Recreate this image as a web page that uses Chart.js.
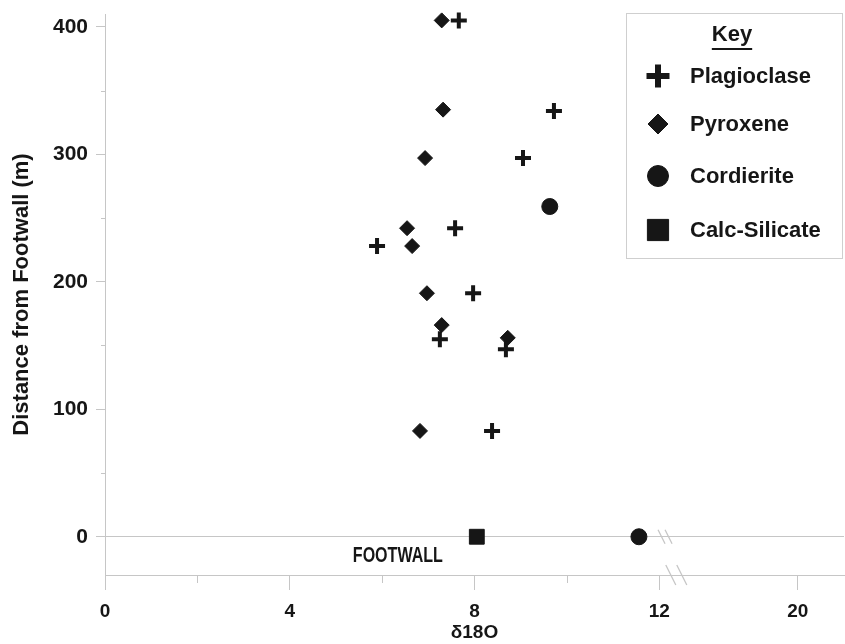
<!DOCTYPE html>
<html>
<head>
<meta charset="utf-8">
<script src="https://cdn.jsdelivr.net/npm/chart.js@4.4.0/dist/chart.umd.min.js"></script>
<style>
  html, body { margin: 0; padding: 0; background: #fff; }
  #chart { display: block; }
</style>
</head>
<body>
<canvas id="chart" width="845" height="644"></canvas>
<script>
// Values (x = d18O, y = distance from footwall in m)
const plagioclaseX = [7.66, 9.72, 9.05, 7.58, 5.89, 7.97, 7.25, 8.68, 8.38];
const plagioclaseY = [405, 334, 297, 242, 228, 191, 155, 147, 83];

const pyroxeneX = [7.29, 7.32, 6.93, 6.54, 6.65, 6.97, 7.29, 8.72, 6.82];
const pyroxeneY = [405, 335, 297, 242, 228, 191, 166, 156, 83];

const cordieriteX = [9.63, 11.56];
const cordieriteY = [259, 0];

const calcSilicateX = [8.05];
const calcSilicateY = [0];

// axis ticks
const xMajorTicks = [0, 4, 8, 12, 20];
const xMinorTicks = [2, 6, 10];
const yMajorTicks = [0, 100, 200, 300, 400];
const yMinorTicks = [50, 150, 250, 350];

// the x axis is broken: 12.5 .. 17.5 is cut out
const breakStart = 12.5;
const breakGap = 5;
const toAxis = v => v > breakStart ? v - breakGap : v;
const fromAxis = v => v > breakStart ? v + breakGap : v;

// Style settings
const styles = {
    ink: '#161616',
    axisColor: '#c6c6c6',
    fontFamily: '"Liberation Sans", Arial, sans-serif'
};

Chart.defaults.font.family = styles.fontFamily;
Chart.defaults.color = styles.ink;
Chart.defaults.plugins.legend.display = false;
Chart.defaults.plugins.tooltip.enabled = false;

function series(label, xs, ys, extra) {
    return Object.assign({
        label: label,
        data: xs.map((x, i) => ({ x: toAxis(x), y: ys[i] })),
        backgroundColor: styles.ink,
        borderColor: styles.ink,
        clip: false
    }, extra);
}

const datasets = [
    series('Plagioclase', plagioclaseX, plagioclaseY, { pointStyle: 'cross', pointRadius: 8, pointBorderWidth: 4 }),
    series('Pyroxene', pyroxeneX, pyroxeneY, { pointStyle: 'rectRot', pointRadius: 7.5, pointBorderWidth: 1 }),
    series('Cordierite', cordieriteX, cordieriteY, { pointStyle: 'circle', pointRadius: 8, pointBorderWidth: 1 }),
    series('Calc-Silicate', calcSilicateX, calcSilicateY, { pointStyle: 'rect', pointRadius: 10.5, pointBorderWidth: 1 })
];

// minor ticks, axis break marks and the FOOTWALL note
const axisExtras = {
    id: 'axisExtras',
    afterDraw(chart) {
        const ctx = chart.ctx;
        const xs = chart.scales.x, ys = chart.scales.y;
        const area = chart.chartArea;
        ctx.save();
        ctx.strokeStyle = styles.axisColor;
        ctx.lineWidth = 1;
        ctx.beginPath();
        xMinorTicks.forEach(v => {
            const px = Math.round(xs.getPixelForValue(toAxis(v))) + 0.5;
            ctx.moveTo(px, area.bottom);
            ctx.lineTo(px, area.bottom + 8);
        });
        yMinorTicks.forEach(v => {
            const py = Math.round(ys.getPixelForValue(v)) + 0.5;
            ctx.moveTo(area.left - 4, py);
            ctx.lineTo(area.left, py);
        });
        ctx.stroke();

        // break marks "//" on the footwall line and on the axis
        const zeroY = ys.getPixelForValue(0);
        const slash = (cx, cy, dx, dy) => {
            ctx.moveTo(cx - dx, cy - dy);
            ctx.lineTo(cx + dx, cy + dy);
        };
        ctx.lineWidth = 1.3;
        ctx.beginPath();
        const b1 = xs.getPixelForValue(12.05);
        slash(b1, zeroY, 3.5, 7);
        slash(b1 + 7, zeroY, 3.5, 7);
        const b2 = xs.getPixelForValue(12.25);
        slash(b2, area.bottom, 5, 10);
        slash(b2 + 11, area.bottom, 5, 10);
        ctx.stroke();

        // FOOTWALL note
        ctx.fillStyle = styles.ink;
        ctx.font = 'bold 22px ' + styles.fontFamily;
        ctx.textAlign = 'center';
        ctx.textBaseline = 'middle';
        ctx.fillText('FOOTWALL', xs.getPixelForValue(6.34), ys.getPixelForValue(-15), 90);
        ctx.restore();
    }
};

// Key box in the top right corner
const keyBox = {
    id: 'keyBox',
    afterDraw(chart) {
        const ctx = chart.ctx;
        const markers = [
            { radius: 11.5, borderWidth: 6 },
            { radius: 10, borderWidth: 1 },
            { radius: 10.5, borderWidth: 1 },
            { radius: 15, borderWidth: 1 }
        ];
        const rows = [76, 124, 176, 230];
        ctx.save();
        ctx.strokeStyle = '#cfcfcf';
        ctx.lineWidth = 1;
        ctx.strokeRect(626.5, 13.5, 216, 245);

        ctx.fillStyle = styles.ink;
        ctx.font = 'bold 22px ' + styles.fontFamily;
        ctx.textAlign = 'center';
        ctx.textBaseline = 'middle';
        ctx.fillText('Key', 732, 35);
        const kw = ctx.measureText('Key').width;
        ctx.fillRect(732 - kw / 2, 48, kw, 2);

        ctx.textAlign = 'left';
        chart.data.datasets.forEach((ds, i) => {
            ctx.fillStyle = styles.ink;
            ctx.strokeStyle = styles.ink;
            ctx.lineWidth = markers[i].borderWidth;
            Chart.helpers.drawPoint(ctx, {
                pointStyle: ds.pointStyle,
                radius: markers[i].radius,
                borderWidth: markers[i].borderWidth,
                rotation: 0
            }, 658, rows[i]);
            ctx.fillText(ds.label, 690, rows[i] + 1);
        });
        ctx.restore();
    }
};

const config = {
    type: 'scatter',
    data: { datasets: datasets },
    options: {
        responsive: false,
        animation: false,
        layout: { autoPadding: false, padding: { top: 14, right: 1, bottom: 0, left: 0 } },
        scales: {
            x: {
                type: 'linear',
                min: 0,
                max: toAxis(21),
                afterBuildTicks: s => { s.ticks = xMajorTicks.map(v => ({ value: toAxis(v) })); },
                afterFit: s => { s.height = 69; s.paddingLeft = 0; s.paddingRight = 0; },
                ticks: {
                    autoSkip: false,
                    maxRotation: 0,
                    padding: 10,
                    font: { size: 19, weight: 'bold' },
                    callback: v => String(fromAxis(v))
                },
                grid: { drawOnChartArea: false, tickLength: 15, tickColor: styles.axisColor },
                border: { color: styles.axisColor },
                title: {
                    display: true,
                    text: 'δ18O',
                    font: { size: 19, weight: 'bold' },
                    padding: { top: 0, bottom: 0 }
                }
            },
            y: {
                type: 'linear',
                min: -30,
                max: 410,
                afterBuildTicks: s => { s.ticks = yMajorTicks.map(v => ({ value: v })); },
                afterFit: s => { s.width = 105; s.paddingTop = 0; s.paddingBottom = 0; },
                ticks: {
                    autoSkip: false,
                    padding: 8,
                    font: { size: 21, weight: 'bold' }
                },
                grid: {
                    tickLength: 9,
                    tickColor: styles.axisColor,
                    color: c => (c.tick && c.tick.value === 0) ? styles.axisColor : 'rgba(0,0,0,0)'
                },
                border: { color: styles.axisColor },
                title: {
                    display: true,
                    text: 'Distance from Footwall (m)',
                    font: { size: 22, weight: 'bold' },
                    padding: { top: 9, bottom: 0 }
                }
            }
        }
    },
    plugins: [axisExtras, keyBox]
};

new Chart(document.getElementById('chart'), config);
</script>
</body>
</html>
